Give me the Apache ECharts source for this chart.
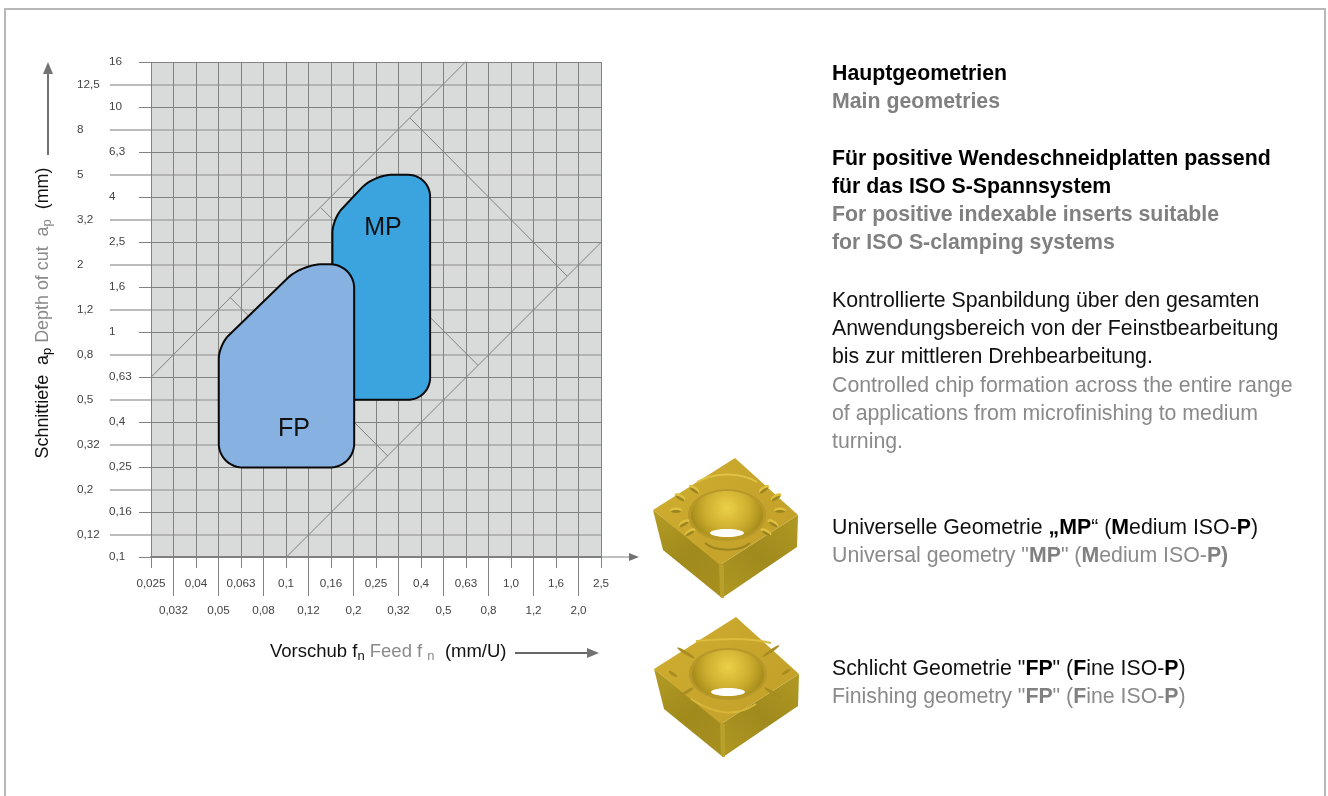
<!DOCTYPE html>
<html><head><meta charset="utf-8">
<style>html,body{margin:0;padding:0;background:#fff}#c{width:1328px;height:796px}</style>
<script src="https://cdn.jsdelivr.net/npm/echarts@6/dist/echarts.min.js"></script>
</head><body><div id="c"></div>
<script>
// ---- data ----
const feedTicks = ['0,025','0,032','0,04','0,05','0,063','0,08','0,1','0,12','0,16','0,2','0,25','0,32','0,4','0,5','0,63','0,8','1,0','1,2','1,6','2,0','2,5'];
const depthTicks = ['0,1','0,12','0,16','0,2','0,25','0,32','0,4','0,5','0,63','0,8','1','1,2','1,6','2','2,5','3,2','4','5','6,3','8','10','12,5','16'];
// outlines as [feed mm/U, depth mm]
const fpOutline = [[0.05,0.875],[0.117,2],[0.2,2],[0.2,0.25],[0.05,0.25]];
const mpOutline = [[0.16,3.18],[0.245,5],[0.435,5],[0.435,0.5],[0.16,0.5]];
const fpRadius = [14,20,24,24,24];
const mpRadius = [14,18,22,22,0];
const fpLabelPoint = [0.108,0.371];
const mpLabelPoint = [0.2685,2.9];
const guideLines = [
  [[0.025,0.63],[0.63,16]],
  [[0.1,0.1],[2.5,2.5]],
  [[0.354,8.93],[1.767,1.774]],
  [[0.1425,3.56],[0.709,0.712]],
  [[0.056,1.43],[0.282,0.281]]
];
const textLines = [
  [74,'{kb|Hauptgeometrien}'],
  [102,'{gb|Main geometries}'],
  [159,'{kb|Für positive Wendeschneidplatten passend}'],
  [187,'{kb|für das ISO S-Spannsystem}'],
  [215,'{gb|For positive indexable inserts suitable}'],
  [243,'{gb|for ISO S-clamping systems}'],
  [301,'{k|Kontrollierte Spanbildung über den gesamten}'],
  [329,'{k|Anwendungsbereich von der Feinstbearbeitung}'],
  [357,'{k|bis zur mittleren Drehbearbeitung.}'],
  [386,'{g|Controlled chip formation across the entire range}'],
  [414,'{g|of applications from microfinishing to medium}'],
  [442,'{g|turning.}'],
  [528,'{k|Universelle Geometrie }{kb|„MP}{k|“ (}{kb|M}{k|edium ISO-}{kb|P}{k|)}'],
  [556,'{g|Universal geometry "}{gb|MP}{g|" (}{gb|M}{g|edium ISO-}{gb|P)}'],
  [669,'{k|Schlicht Geometrie "}{kb|FP}{k|" (}{kb|F}{k|ine ISO-}{kb|P}{k|)}'],
  [697,'{g|Finishing geometry "}{gb|FP}{g|" (}{gb|F}{g|ine ISO-}{gb|P}{g|)}']
];
// ---- scales: the printed ticks are evenly spaced, ten steps per decade ----
const xPos = v => Math.log10(v/0.025)*10;
const yPos = v => Math.log10(v/0.1)*10;
const FONT = '"Liberation Sans", Arial, sans-serif';
const GRID = '#828282', GRID2 = '#a6a6a6';
const even = n => Array.from({length:n},(_,i)=>i).filter(i=>i%2===0);
const odd  = n => Array.from({length:n},(_,i)=>i).filter(i=>i%2===1);

function rounded(pts, radii){
  const out=[]; const n=pts.length, k=0.5523;
  pts.forEach((p,i)=>{
    const a=pts[(i+n-1)%n], b=pts[(i+1)%n], r=radii[i];
    if(!r){out.push(p);return;}
    const la=Math.hypot(a[0]-p[0],a[1]-p[1]), lb=Math.hypot(b[0]-p[0],b[1]-p[1]);
    const s=[p[0]+(a[0]-p[0])*r/la,p[1]+(a[1]-p[1])*r/la], e=[p[0]+(b[0]-p[0])*r/lb,p[1]+(b[1]-p[1])*r/lb];
    const c1=[s[0]+(p[0]-s[0])*k,s[1]+(p[1]-s[1])*k], c2=[e[0]+(p[0]-e[0])*k,e[1]+(p[1]-e[1])*k];
    for(let t=0;t<=1.0001;t+=0.08){
      const u=1-t;
      out.push([0,1].map(d=>u*u*u*s[d]+3*u*u*t*c1[d]+3*u*t*t*c2[d]+t*t*t*e[d]));
    }
  });
  return out;
}
function shapeSeries(name,outline,radii,fill,lp){
  return {type:'custom',name,silent:true,z:5,clip:false,data:[[xPos(lp[0]),yPos(lp[1])]],
    renderItem:(params,api)=>{
      const pts=outline.map(p=>api.coord([xPos(p[0]),yPos(p[1])]));
      const c=api.coord([xPos(lp[0]),yPos(lp[1])]);
      return {type:'group',children:[
        {type:'polygon',shape:{points:rounded(pts,radii)},style:{fill,stroke:'#0a0a0a',lineWidth:2}},
        {type:'text',x:c[0],y:c[1],style:{text:name,fill:'#111',font:'25px '+FONT,align:'center',verticalAlign:'middle'}}
      ]};
    }};
}
function axisX(vals,tickLen,margin,showLine){
  return {type:'value',min:0,max:20,position:'bottom',interval:1,
    axisLine:{show:showLine,onZero:false,lineStyle:{color:'#808080',width:2}},
    axisTick:{show:true,length:tickLen,customValues:vals,lineStyle:{color:GRID,width:1}},
    axisLabel:{show:true,customValues:vals,margin,color:'#444',fontSize:11.7,fontFamily:FONT,formatter:v=>feedTicks[v]},
    splitLine:{show:true,lineStyle:{color:GRID,width:1}}};
}
function axisY(vals,tickLen,margin,col,w){
  return {type:'value',min:0,max:22,position:'left',interval:1,
    axisLine:{show:false,onZero:false},
    axisTick:{show:true,length:tickLen,customValues:vals,lineStyle:{color:col,width:w}},
    axisLabel:{show:true,customValues:vals,margin,align:'left',color:'#444',fontSize:11.7,fontFamily:FONT,formatter:v=>depthTicks[v]},
    splitLine:{show:true,lineStyle:{color:col,width:w}}};
}
// ---- illustration of an insert ----
function poly(points,fill,extra){return Object.assign({type:'polygon',shape:{points},style:{fill}},extra||{});}
function lin(x1,y1,x2,y2,stops){return {type:'linear',x:x1,y:y1,x2,y2,global:false,colorStops:stops.map((c,i)=>({offset:i/(stops.length-1),color:c}))};}
function ell(cx,cy,rx,ry,fill,rot){return {type:'ellipse',x:cx,y:cy,rotation:rot||0,shape:{cx:0,cy:0,rx,ry},style:{fill}};}
function curve(x1,y1,cx1,cy1,cx2,cy2,x2,y2,c,w){return {type:'bezierCurve',shape:{x1,y1,x2,y2,cpx1:cx1,cpy1:cy1,cpx2:cx2,cpy2:cy2},style:{stroke:c,fill:'none',lineWidth:w}};}
function insert(ox,oy,kind){
  const P=a=>a.map(p=>[p[0]+ox,p[1]+oy]);
  const els=[
    poly(P([[653,510],[663,550],[722,598],[722,565]]),lin(0,0,1,1,['#b49c24','#a08a1c','#a8901f'])),
    poly(P([[722,598],[797,547],[798,515],[720,565]]),lin(0,1,1,0,['#b09822','#a08a1d','#b09822'])),
    poly(P([[653,510],[735,458],[798,515],[720,565]]),lin(0,0,1,1,['#cfae30','#c8a62c','#c2a02a'])),
    poly(P([[719,565],[724,565],[724,598],[720,597]]),'#b8a02a'),
    ell(727+ox,515+oy,39,26,'#b8982a'),
    ell(727+ox,515+oy,36,24,{type:'radial',x:.5,y:.35,r:.8,colorStops:[{offset:0,color:'#ecd048'},{offset:.6,color:'#ccac2e'},{offset:1,color:'#a08816'}]}),
    ell(727+ox,533+oy,17,4,'#ffffff')
  ];
  if(kind==='MP'){
    [[680,497,-.5],[676,510,0],[684,523,.5],[776,497,.5],[780,510,0],[773,523,-.5],[694,489,-.6],[764,489,.6],[690,532,.5],[766,532,-.5]].forEach(o=>{
      els.push(ell(o[0]+ox,o[1]+oy,6,2.6,'#dfc03f',o[2]));
      els.push(ell(o[0]+ox,o[1]+oy+1.5,5,1.4,'#9c8420',o[2]));
    });
    els.push(curve(697+ox,482+oy,715+ox,472+oy,740+ox,472+oy,757+ox,482+oy,'#e0c244',2));
    els.push(curve(705+ox,543+oy,715+ox,552+oy,740+ox,552+oy,750+ox,543+oy,'#9c8420',2));
  } else {
    [[685,494,-.55,10],[770,492,.6,10],[684,534,.55,10],[772,534,-.55,10],[672,515,-.6,5],[785,513,.6,5]].forEach(o=>{
      els.push(ell(o[0]+ox,o[1]+oy,o[3],1.6,'#a98c20',o[2]));
    });
    els.push(curve(695+ox,482+oy,720+ox,480+oy,745+ox,478+oy,770+ox,484+oy,'#dcbc3c',2));
    els.push(curve(690+ox,540+oy,715+ox,556+oy,735+ox,558+oy,755+ox,545+oy,'#d8b83a',2));
  }
  return {type:'group',silent:true,children:els};
}
const TS='21.3px ';
const textGfx = textLines.map(([y,t])=>({type:'text',x:832,y,silent:true,style:{text:t,align:'left',verticalAlign:'middle',
  rich:{k:{font:TS+FONT,fill:'#111'},kb:{font:'bold '+TS+FONT,fill:'#000'},g:{font:TS+FONT,fill:'#8a8a8a'},gb:{font:'bold '+TS+FONT,fill:'#808080'}}}}));
const richAt=(s,ss,pad)=>({k:{font:s+'px '+FONT,fill:'#111'},g:{font:s+'px '+FONT,fill:'#8a8a8a'},
  sk:{font:ss+'px '+FONT,fill:'#111',padding:[pad,0,0,0]},sg:{font:ss+'px '+FONT,fill:'#8a8a8a',padding:[pad,0,0,0]}});
const arrow=(pts)=>poly(pts,'#737373',{silent:true});
const seg=(x1,y1,x2,y2,w,c)=>({type:'line',silent:true,shape:{x1,y1,x2,y2},style:{stroke:c,lineWidth:w}});

const chart=echarts.init(document.getElementById('c'),null,{renderer:'canvas'});
chart.setOption({
  animation:false,backgroundColor:'#fff',
  grid:{left:151,top:62,width:450,height:495,show:true,backgroundColor:'#d9dbda',borderWidth:0,containLabel:false},
  xAxis:[axisX(even(21),11,21,true),axisX(odd(21),39,48,false)],
  yAxis:[axisY(even(23),12,42,GRID,1),axisY(odd(23),41,74,GRID2,1.5)],
  series:[
    ...guideLines.map(l=>({type:'line',silent:true,symbol:'none',z:3,lineStyle:{color:'#808080',width:1},
      data:l.map(p=>[xPos(p[0]),yPos(p[1])])})),
    shapeSeries('MP',mpOutline,mpRadius,'#3ba3de',mpLabelPoint),
    shapeSeries('FP',fpOutline,fpRadius,'#86b1e0',fpLabelPoint)
  ],
  graphic:{elements:[
    seg(5,9,1325,9,2,'#b8b8b8'),seg(5,8,5,796,2,'#b8b8b8'),seg(1325,8,1325,796,2,'#b8b8b8'),
    seg(48,155,48,72,2,'#737373'),arrow([[48,62],[43,74],[53,74]]),
    seg(601,557,630,557,1,'#808080'),arrow([[639,557],[629,553],[629,561]]),
    seg(515,653,587,653,2,'#666'),arrow([[599,653],[587,648],[587,658]]),
    {type:'text',x:43,y:313,rotation:Math.PI/2,silent:true,style:{align:'center',verticalAlign:'middle',rich:richAt(17.9,13,8),
      text:'{k|Schnittiefe  a}{sk|p}{g| Depth of cut  a}{sg|p}{k|  (mm)}'}},
    {type:'text',x:270,y:652,silent:true,style:{align:'left',verticalAlign:'middle',rich:richAt(18.5,13,8),
      text:'{k|Vorschub f}{sk|n}{g| Feed f }{sg|n}{k|  (mm/U)}'}},
    ...textGfx,
    insert(0,0,'MP'),
    insert(1,159,'FP')
  ]}
});
</script></body></html>
